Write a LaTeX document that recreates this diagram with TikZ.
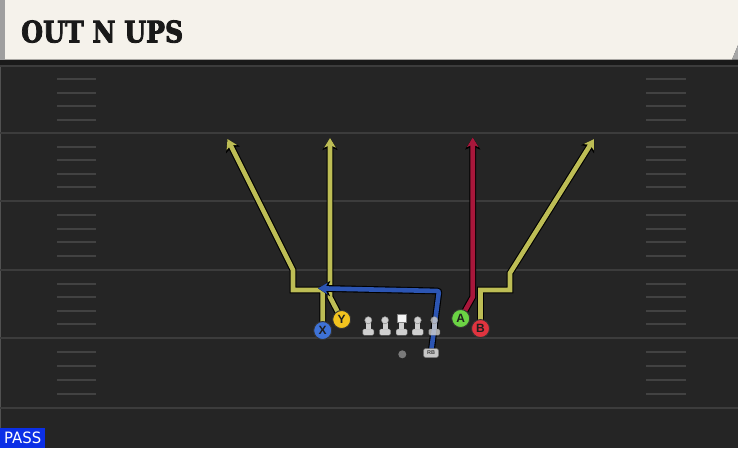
\documentclass[tikz,border=0pt]{standalone}
\usepackage{fontspec}
\setmainfont{Liberation Sans}
\newfontfamily\titlefont{DejaVu Serif Bold}[FakeBold=3]
\newfontfamily\passfont{DejaVu Sans}
\usetikzlibrary{arrows.meta}
\definecolor{fieldbg}{HTML}{252525}
\definecolor{fieldline}{HTML}{3C3C3C}
\definecolor{hashc}{HTML}{424242}
\definecolor{headerbg}{HTML}{F5F2EB}
\definecolor{headershadow}{HTML}{1A1A1A}
\definecolor{routeY}{HTML}{BDBD55}
\definecolor{routeR}{HTML}{A8173B}
\definecolor{routeB}{HTML}{2C55B3}
\definecolor{plX}{HTML}{3E72D6}
\definecolor{plY}{HTML}{F2C31E}
\definecolor{plA}{HTML}{6BD344}
\definecolor{plB}{HTML}{E0343F}
\definecolor{linec}{HTML}{D0D0D0}
\definecolor{passblue}{HTML}{0B2FE6}
\begin{document}
\begin{tikzpicture}[x=1pt,y=-1pt,
  yardline/.style={draw=fieldline, line width=2.2pt},
  hashmark/.style={draw=hashc, line width=2pt},
  routeout/.style={draw=black, line width=6.8pt, line join=miter, -{Stealth[width=15pt,length=12pt,inset=3pt]}},
  routein/.style={draw=#1, line width=4.6pt, line join=miter, -{Stealth[width=11.5pt,length=9.5pt,inset=2.4pt]}},
  player/.style={circle, minimum size=18pt, inner sep=0pt, fill=#1, draw=black!80, line width=0.9pt,
    font=\bfseries\fontsize{12}{12}\selectfont, text=black!88},
  lineman/.pic={
    \fill[linec, draw=black!50, line width=0.4pt, rounded corners=1.4pt] (-5.5,-3) rectangle (5.5,3.2);
    \fill[linec] (-2.5,-9.5) rectangle (2.5,-2.6);
    \fill[linec, draw=black!50, line width=0.4pt] (0,-11.8) circle (3.6pt);
  },
  centerman/.pic={
    \fill[linec, draw=black!50, line width=0.4pt, rounded corners=1.4pt] (-5.5,-3) rectangle (5.5,3.2);
    \fill[linec] (-2.5,-10) rectangle (2.5,-2.6);
    \fill[white!96!black, draw=black!50, line width=0.4pt] (-4.6,-18.3) rectangle (4.6,-9.6);
  }]
\useasboundingbox (0,0) rectangle (738,448);
% field
\fill[fieldbg] (0,0) rectangle (738,448);
\fill[fieldbg!80!white] (0,60) rectangle (1.2,448);
% yard lines
\foreach \ly in {66,133,201,270,338,408}
  \draw[yardline] (0,\ly) -- (738,\ly);
% hash marks
\foreach \a/\b in {66/133,133/201,201/270,270/338,338/408}
  \foreach \k in {1,...,4} {
    \draw[hashmark] (57,{\a+\k*(\b-\a)/5}) -- (96,{\a+\k*(\b-\a)/5});
    \draw[hashmark] (646,{\a+\k*(\b-\a)/5}) -- (686,{\a+\k*(\b-\a)/5});
  }
% header
\fill[headershadow] (0,59) rectangle (738,64.5);
\fill[headerbg] (5,0) -- (738,0) -- (738,45) -- (732,59.5) -- (5,59.5) -- cycle;
\fill[gray!70] (732,59.5) -- (738,45) -- (738,59.5) -- cycle;
\fill[gray!75] (0,0) rectangle (5,59.5);
\node[anchor=south west, inner sep=0pt, text=black!90] (title) at (21,43)
  {\resizebox{162pt}{22pt}{\titlefont OUT N UPS}};
% player positions
\coordinate (pX) at (322.7,330.5);
\coordinate (pY) at (341.7,319.5);
\coordinate (pA) at (460.7,318.5);
\coordinate (pB) at (480.5,328.5);
\coordinate (pRB) at (431,353);
% route way points
\coordinate (x1) at (322.7,290);
\coordinate (x2) at (293,290);
\coordinate (x3) at (293,270);
\coordinate (xe) at (227.5,139);
\coordinate (y1) at (330,297);
\coordinate (ye) at (330,138);
\coordinate (a1) at (472.7,297);
\coordinate (ae) at (472.7,137.5);
\coordinate (b1) at (480.5,290);
\coordinate (b2) at (510,290);
\coordinate (b3) at (510,273);
\coordinate (be) at (594,139);
\coordinate (r1) at (439,291);
\coordinate (re) at (318,288.3);
% routes
\draw[routeout] (pX) -- (x1) -- (x2) -- (x3) -- (xe);
\draw[routein=routeY] (pX) -- (x1) -- (x2) -- (x3) -- (xe);
\draw[routeout] (pY) -- (y1) -- (ye);
\draw[routein=routeY] (pY) -- (y1) -- (ye);
\draw[routeout] (pA) -- (a1) -- (ae);
\draw[routein=routeR] (pA) -- (a1) -- (ae);
\draw[routeout] (pB) -- (b1) -- (b2) -- (b3) -- (be);
\draw[routein=routeY] (pB) -- (b1) -- (b2) -- (b3) -- (be);
\draw[routeout, rounded corners=2pt] (pRB) -- (r1) -- (re);
\draw[routein=routeB, rounded corners=2pt] (pRB) -- (r1) -- (re);
% offensive line
\pic at (368.3,332) {lineman};
\pic at (385,332) {lineman};
\pic at (401.7,332) {centerman};
\pic at (417.7,332) {lineman};
\begin{scope}[opacity=0.8]
\pic at (434.3,332) {lineman};
\end{scope}
% backs
\node[circle, fill=black!52, minimum size=8pt, inner sep=0pt] (QB) at (402.3,354.3) {};
\node[rounded corners=2.2pt, fill=black!22, draw=black!55, line width=0.5pt, minimum width=15pt,
  minimum height=9pt, inner sep=0pt, font=\bfseries\fontsize{5.5}{5.5}\selectfont, text=black!75]
  (RB) at (pRB) {RB};
% receivers
\node[player=plX] (X) at (pX) {X};
\node[player=plY] (Y) at (pY) {Y};
\node[player=plA] (A) at (pA) {A};
\node[player=plB] (B) at (pB) {B};
% play type
\node[fill=passblue, anchor=south west, inner sep=0pt, minimum width=45pt, minimum height=20.3pt,
  text=white] (pass) at (0,448) {\resizebox{37pt}{11.6pt}{\passfont PASS}};
\end{tikzpicture}
\end{document}
